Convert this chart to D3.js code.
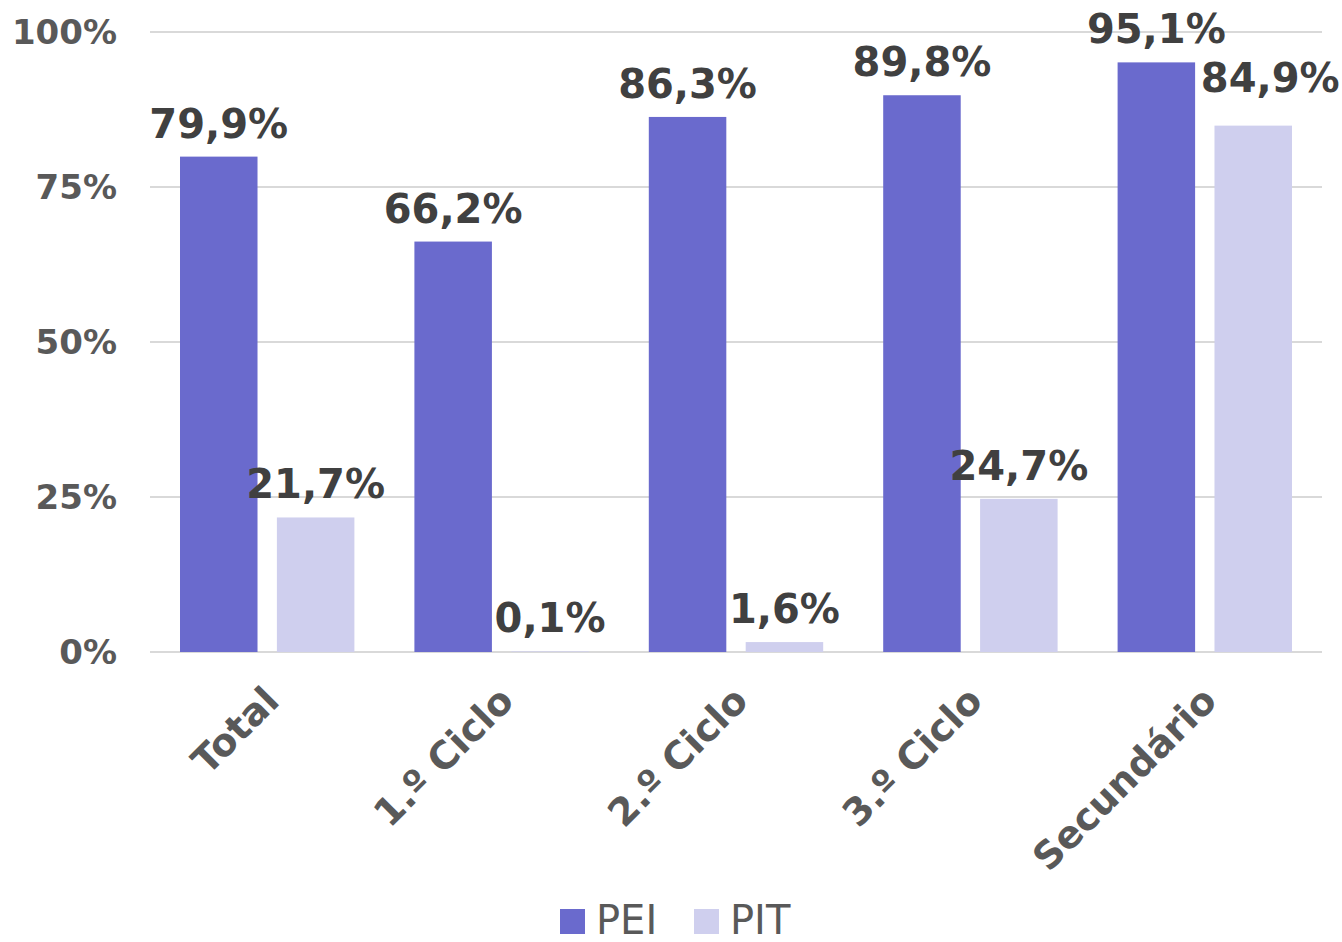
<!DOCTYPE html>
<html>
<head>
<meta charset="utf-8">
<script src="https://cdn.jsdelivr.net/npm/d3@7/dist/d3.min.js"></script>
<style>
  body { margin: 0; background: #fff; }
  text { font-family: "DejaVu Sans", Verdana, sans-serif; }
</style>
</head>
<body>
<div id="chart"></div>
<script>
// categories and series
const categories = ['Total', '1.º Ciclo', '2.º Ciclo', '3.º Ciclo', 'Secundário']
const series = ['PEI', 'PIT']
const pei_values = [79.9, 66.2, 86.3, 89.8, 95.1]
const pit_values = [21.7, 0.1, 1.6, 24.7, 84.9]
const y_ticks = [0, 25, 50, 75, 100]

const colors = {PEI: '#6a6acd', PIT: '#cfcfee'}

const width = 1342
const height = 942
const margins = {top: 32, bottom: 290, left: 150, right: 20}

let rows = []
for(let i = 0; i < categories.length; i++) {
    rows.push({cat: categories[i], key: 'PEI', value: pei_values[i]})
    rows.push({cat: categories[i], key: 'PIT', value: pit_values[i]})
}

const svg = d3.select('#chart')
    .append('svg')
    .attr('width', width)
    .attr('height', height)

let x_scale = d3.scaleBand()
    .domain(categories)
    .range([margins.left, width - margins.right])

let x_inner = d3.scaleBand()
    .domain(series)
    .range([30, x_scale.bandwidth() - 30])
    .paddingInner(0.2)

let y_scale = d3.scaleLinear()
    .domain([0, 100])
    .range([height - margins.bottom, margins.top])

// gridlines
svg.append('g')
    .selectAll('line')
    .data(y_ticks)
    .enter()
    .append('line')
    .attr('x1', margins.left)
    .attr('x2', width - margins.right)
    .attr('y1', d => y_scale(d))
    .attr('y2', d => y_scale(d))
    .attr('stroke', '#d9d9d9')
    .attr('stroke-width', 2)

// y axis labels
svg.append('g')
    .selectAll('text')
    .data(y_ticks)
    .enter()
    .append('text')
    .attr('x', 117)
    .attr('y', d => y_scale(d) + 12)
    .attr('text-anchor', 'end')
    .attr('font-size', '34px')
    .attr('font-weight', 'bold')
    .attr('fill', '#595959')
    .text(d => d + '%')

// bars
svg.append('g')
    .selectAll('rect')
    .data(rows)
    .enter()
    .append('rect')
    .attr('x', d => x_scale(d.cat) + x_inner(d.key))
    .attr('y', d => y_scale(d.value))
    .attr('width', x_inner.bandwidth())
    .attr('height', d => y_scale(0) - y_scale(d.value))
    .attr('fill', d => colors[d.key])

// excel nudges the last PIT label so it doesn't sit on the PEI one
function nudge(d) {
    if (d.cat == 'Secundário' && d.key == 'PIT') return [17, -15]
    return [0, 0]
}

svg.append('g')
    .selectAll('text')
    .data(rows)
    .enter()
    .append('text')
    .attr('x', d => x_scale(d.cat) + x_inner(d.key) + x_inner.bandwidth() / 2 + nudge(d)[0])
    .attr('y', d => y_scale(d.value) - 19 + nudge(d)[1])
    .attr('text-anchor', 'middle')
    .attr('font-size', '40px')
    .attr('font-weight', 'bold')
    .attr('fill', '#404040')
    .text(d => d.value.toFixed(1).replace('.', ',') + '%')

// category labels, rotated
svg.append('g')
    .selectAll('text')
    .data(categories)
    .enter()
    .append('text')
    .attr('transform', d => 'translate(' + (x_scale(d) + x_scale.bandwidth() / 2 + 14) + ',' + 703 + ') rotate(-45)')
    .attr('text-anchor', 'end')
    .attr('font-size', '38px')
    .attr('font-weight', 'bold')
    .attr('fill', '#595959')
    .text(d => d)

// legend
let legend = svg.append('g')
    .attr('transform', 'translate(560,909)')

let legend_items = legend.selectAll('g')
    .data(series)
    .enter()
    .append('g')
    .attr('transform', (d, i) => 'translate(' + (i * 134) + ',0)')

legend_items.append('rect')
    .attr('width', 25)
    .attr('height', 25)
    .attr('fill', d => colors[d])

legend_items.append('text')
    .attr('x', 36)
    .attr('y', 25)
    .attr('font-size', '40px')
    .attr('fill', '#595959')
    .text(d => d)
</script>
</body>
</html>
